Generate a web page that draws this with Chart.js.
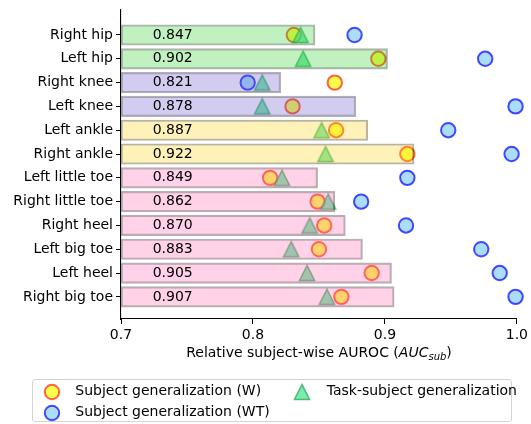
<!DOCTYPE html>
<html><head><meta charset="utf-8">
<script src="https://cdn.jsdelivr.net/npm/chart.js@4.4.0/dist/chart.umd.min.js"></script>
<style>
html,body{margin:0;padding:0;background:#fff;}
#wrap{position:relative;width:531px;height:424px;font-family:"DejaVu Sans",sans-serif;color:#000;overflow:hidden;}
#c{position:absolute;left:0;top:0;}
#xtitle{position:absolute;left:119px;width:400px;top:344px;text-align:center;font-size:14px;line-height:17px;white-space:nowrap;}
#xtitle sub{font-size:10px;font-style:italic;vertical-align:-3px;line-height:0;}
#legend{position:absolute;left:32px;top:379px;width:480px;height:43px;border:1px solid #d4d4d4;border-radius:3px;box-sizing:border-box;background:rgba(255,255,255,0.8);}
.li{position:absolute;font-size:14px;line-height:17px;white-space:nowrap;}
.mk{position:absolute;width:20px;height:20px;}
</style></head>
<body>
<div id="wrap">
<canvas id="c" width="531" height="424"></canvas>
<div id="xtitle">Relative subject-wise AUROC (<i>AUC</i><sub>sub</sub>)</div>
<div id="legend"></div>
</div>
<script>
// ---- data ----
const categories = ["Right hip","Left hip","Right knee","Left knee","Left ankle","Right ankle",
  "Left little toe","Right little toe","Right heel","Left big toe","Left heel","Right big toe"];
const groups = ["hip","hip","knee","knee","ankle","ankle","foot","foot","foot","foot","foot","foot"];
const taskAUC = [0.847,0.902,0.821,0.878,0.887,0.922,0.849,0.862,0.870,0.883,0.905,0.907];
const subjW  = [0.831,0.895,0.862,0.830,0.863,0.917,0.813,0.849,0.854,0.850,0.890,0.867];
const subjWT = [0.877,0.976,0.796,0.999,0.948,0.996,0.917,0.882,0.916,0.973,0.987,0.999];
const taskSubj = [0.836,0.838,0.807,0.807,0.852,0.855,0.822,0.857,0.843,0.829,0.841,0.856];
const xTicks = [0.7,0.8,0.9,1.0];
const legendLabels = ["Subject generalization (W)","Subject generalization (WT)","Task-subject generalization"];

// ---- styles ----
const X_MIN = 0.7, X_MAX = 1.0;
const groupColor = {hip:'rgba(50,205,50,0.3)', knee:'rgba(106,90,205,0.3)', ankle:'rgba(252,212,20,0.3)', foot:'rgba(255,105,180,0.3)'};
const W_FILL='rgba(255,255,0,0.7)', W_EDGE='rgba(255,30,10,0.7)';
const WT_FILL='rgba(135,206,250,0.7)', WT_EDGE='rgba(0,0,255,0.7)';
const T_FILL='rgba(70,225,140,0.7)', T_EDGE='rgba(30,160,80,0.7)';

function triCanvas(fill, stroke){
  const c=document.createElement('canvas'); c.width=20; c.height=20;
  const g=c.getContext('2d');
  g.beginPath(); g.moveTo(10,2.5); g.lineTo(2.4,17.5); g.lineTo(17.6,17.5); g.closePath();
  g.fillStyle=fill; g.fill(); g.lineWidth=1.5; g.strokeStyle=stroke; g.lineJoin='miter'; g.stroke();
  return c;
}
const triImg = triCanvas(T_FILL, T_EDGE);

const barLabels = {
  id:'barLabels',
  afterDatasetsDraw(chart){
    const ctx=chart.ctx, xs=chart.scales.x, ys=chart.scales.y;
    ctx.save();
    ctx.font='14px "DejaVu Sans"'; ctx.fillStyle='#000'; ctx.textAlign='left'; ctx.textBaseline='middle';
    taskAUC.forEach((v,i)=>{ ctx.fillText(v.toFixed(3), xs.getPixelForValue(0.724), ys.getPixelForValue(i)); });
    ctx.restore();
  }
};

const pts = arr => categories.map((c,i)=>({x:arr[i], y:i}));

new Chart(document.getElementById('c'), {
  type:'scatter',
  data:{
    datasets:[
      {type:'bar', label:'Task', indexAxis:'y', order:0,
       data: categories.map((c,i)=>({x:[X_MIN, taskAUC[i]], y:i})),
       backgroundColor: groups.map(g=>groupColor[g]),
       borderColor:'rgba(0,0,0,0.3)', borderWidth:1.5, borderSkipped:false,
       barThickness:20.5},
      {label:legendLabels[2], order:1, data:pts(taskSubj), pointStyle:triImg, pointRadius:8, clip:false},
      {label:legendLabels[0], order:2, data:pts(subjW), pointStyle:'circle', pointRadius:7.2,
       backgroundColor:W_FILL, borderColor:W_EDGE, borderWidth:2, clip:false},
      {label:legendLabels[1], order:3, data:pts(subjWT), pointStyle:'circle', pointRadius:7.2,
       backgroundColor:WT_FILL, borderColor:WT_EDGE, borderWidth:2, clip:false}
    ]
  },
  options:{
    responsive:false, animation:false, devicePixelRatio:1,
    layout:{padding:{top:7,right:14,left:0,bottom:0}},
    plugins:{legend:{display:false}, tooltip:{enabled:false}},
    scales:{
      x:{type:'linear', min:X_MIN, max:X_MAX, offset:false, beginAtZero:false,
        afterBuildTicks(s){ s.ticks = xTicks.map(v=>({value:v})); },
        afterFit(s){ s.height = 105; },
        ticks:{callback:v=>Number(v).toFixed(1), font:{family:'DejaVu Sans', size:14}, color:'#000', padding:3, maxRotation:0, autoSkip:false},
        grid:{display:true, offset:false, drawOnChartArea:false, drawTicks:true, tickLength:5, color:'#000', lineWidth:1},
        border:{display:true, color:'#000', width:1.1},
        title:{display:false}},
      y:{type:'linear', min:-1.05, max:11.93, reverse:true, offset:false,
        afterBuildTicks(s){ s.ticks = categories.map((c,i)=>({value:i})); },
        afterFit(s){ s.width = 121; },
        ticks:{callback:v=>categories[v], font:{family:'DejaVu Sans', size:14, lineHeight:1}, color:'#000', padding:3, autoSkip:false},
        grid:{display:true, offset:false, drawOnChartArea:false, drawTicks:true, tickLength:5, color:'#000', lineWidth:1},
        border:{display:true, color:'#000', width:1.1}}
    }
  },
  plugins:[barLabels]
});

// ---- HTML legend ----
const lg=document.getElementById('legend');
const svgCircle=(f,s)=>`<svg width="20" height="20"><circle cx="10" cy="10" r="7.2" fill="${f}" stroke="${s}" stroke-width="2"/></svg>`;
const svgTri=(f,s)=>`<svg width="20" height="20"><path d="M10 2.5 L2.4 17.5 L17.6 17.5 Z" fill="${f}" stroke="${s}" stroke-width="1.5"/></svg>`;
const items=[
  {label:legendLabels[0], mk:svgCircle(W_FILL,W_EDGE), mx:51.7, my:392, tx:75.3, ty:382.3},
  {label:legendLabels[1], mk:svgCircle(WT_FILL,WT_EDGE), mx:51.7, my:413, tx:75.3, ty:403.3},
  {label:legendLabels[2], mk:svgTri(T_FILL,T_EDGE), mx:301.7, my:392, tx:326.7, ty:382.3}
];
items.forEach(it=>{
  const m=document.createElement('div'); m.className='mk';
  m.style.left=(it.mx-10-33)+'px'; m.style.top=(it.my-10-380)+'px'; m.innerHTML=it.mk; lg.appendChild(m);
  const t=document.createElement('div'); t.className='li';
  t.style.left=(it.tx-33)+'px'; t.style.top=(it.ty-380)+'px'; t.textContent=it.label; lg.appendChild(t);
});
</script>
</body></html>
